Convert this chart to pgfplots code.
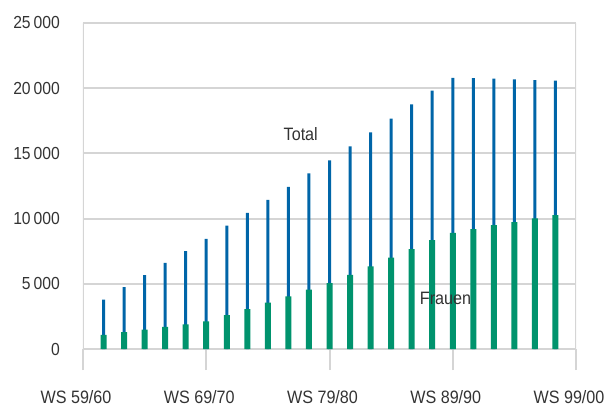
\documentclass[border=0pt]{standalone}
\usepackage{pgfplots}
\pgfplotsset{compat=1.18}
\usepackage{fontspec}
\setmainfont{Liberation Sans}[FakeStretch=0.9]
\definecolor{tblue}{HTML}{0065A8}
\definecolor{fgreen}{HTML}{00936D}
\definecolor{gridgray}{HTML}{D5D5D5}
\definecolor{txt}{HTML}{333333}
\pgfplotstableread{
x total frauen
1 3800 1100
2 4750 1300
3 5680 1500
4 6620 1700
5 7520 1900
6 8450 2120
7 9470 2600
8 10450 3060
9 11440 3570
10 12430 4050
11 13480 4560
12 14460 5050
13 15550 5700
14 16610 6350
15 17670 7020
16 18760 7670
17 19820 8350
18 20800 8920
19 20780 9200
20 20730 9510
21 20680 9740
22 20630 10020
23 20580 10270
}\datatable
\begin{document}
\begin{tikzpicture}
\begin{axis}[
  at={(0,0)}, anchor=south west,
  scale only axis, width=493bp, height=347bp,
  xmin=0, xmax=24, ymin=-1600, ymax=25000,
  axis line style={draw=none},
  xtick={0,6,12,18,24},
  xticklabels={WS 59/60, WS 69/70, WS 79/80, WS 89/90, WS 99/00},
  xtick pos=bottom,
  tick align=inside,
  major tick length=21bp,
  xtick style={gridgray, line width=2bp},
  xticklabel style={anchor=north, inner sep=0pt, yshift=-20bp, xshift=-7bp, font=\fontsize{18}{21}\selectfont, text=txt},
  ytick={0,5000,10000,15000,20000,25000},
  scaled y ticks=false,
  ytick style={draw=none},
  ymajorgrids,
  major grid style={gridgray, line width=2bp},
  yticklabel style={anchor=east, inner sep=0pt, xshift=-23bp, font=\fontsize{17.5}{20}\selectfont, text=txt,
    /pgf/number format/fixed, /pgf/number format/1000 sep={\,}, /pgf/number format/min exponent for 1000 sep=3},
  /pgf/number format/assume math mode=true,
]
\addplot[ybar, bar width=3bp, fill=tblue, draw=none] table[x=x, y=total] {\datatable};
\addplot[ybar, bar width=6bp, fill=fgreen, draw=none] table[x=x, y=frauen] {\datatable};
\draw[gridgray, line width=2bp] (rel axis cs:0,0) -- (rel axis cs:0,1);
\draw[gridgray, line width=2bp] (rel axis cs:1,0) -- (rel axis cs:1,1);
\node[text=txt, font=\fontsize{18}{21}\selectfont] at (axis cs:10.6,16450) {Total};
\node[text=txt, font=\fontsize{18}{21}\selectfont] at (axis cs:17.65,3850) {Frauen};
\end{axis}
\pgfresetboundingbox
\path[use as bounding box] (-83bp,-37bp) rectangle (525bp,370bp);
\end{tikzpicture}
\end{document}
